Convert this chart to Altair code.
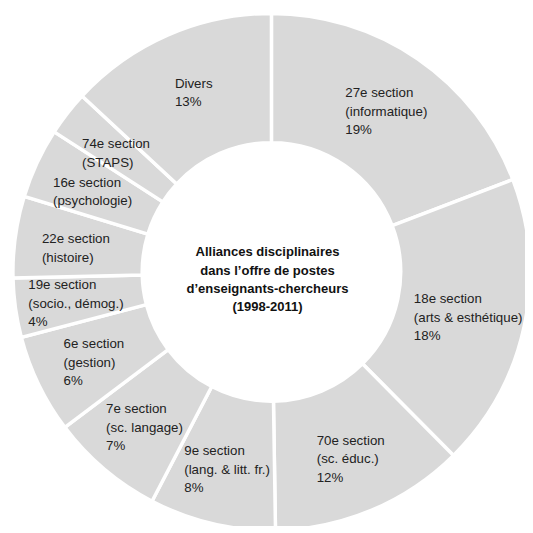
import altair as alt
import pandas as pd

# ---- data (clockwise from 12 o'clock) ----
sections = ["27e section", "18e section", "70e section", "9e section", "7e section",
            "6e section", "19e section", "22e section", "16e section", "74e section", "Divers"]
fields = ["(informatique)", "(arts & esthétique)", "(sc. éduc.)", "(lang. & litt. fr.)",
          "(sc. langage)", "(gestion)", "(socio., démog.)", "(histoire)", "(psychologie)",
          "(STAPS)", ""]
pct_labels = ["19%", "18%", "12%", "8%", "7%", "6%", "4%", "", "", "", "13%"]
shares = [19.2, 18.4, 12.2, 7.9, 7.1, 6.2, 3.7, 5.1, 4.4, 2.8, 13.1]
title_lines = ["Alliances disciplinaires", "dans l\u2019offre de postes",
               "d\u2019enseignants-chercheurs", "(1998-2011)"]

labels = ["\n".join([s for s in (a, b, c) if s]) for a, b, c in zip(sections, fields, pct_labels)]
df = pd.DataFrame({"idx": list(range(len(sections))), "share": shares, "label": labels})
title_df = pd.DataFrame({"t": ["\n".join(title_lines)]})

FS = 13.5
LH = 18.7
CX, CY = 267, 264          # donut centre
TX, TY = 269, 268          # label ring centre
TITLE_X, TITLE_Y = 263, 264

NARROW = {"i": 222, "l": 222, "j": 222, "f": 278, "t": 278, " ": 278, ".": 278, ",": 278,
          "r": 333, "(": 333, ")": 333}
OTHER = {"m": 833, "w": 722, "%": 889, "&": 667, "S": 667, "T": 611, "A": 667, "P": 667,
         "D": 722, "c": 500, "k": 500, "s": 500, "v": 500, "x": 500, "y": 500, "z": 500}


def text_width(s):
    return sum(NARROW.get(ch, OTHER.get(ch, 556)) for ch in s) * FS / 1000.0


theta = alt.Theta("share:Q", stack=True)
order = alt.Order("idx:Q")

arcs = alt.Chart(df).mark_arc(
    innerRadius=131, outerRadius=262, stroke="white", strokeWidth=3.5, fill="#d9d9d9"
).encode(theta=theta, order=order, detail="idx:N", x=alt.value(CX), y=alt.value(CY))

layers = [arcs]
for i, lab in enumerate(labels):
    lines = lab.split("\n")
    w = max(text_width(line) for line in lines)
    layers.append(
        alt.Chart(df)
        .transform_calculate(t=f"datum.idx == {i} ? datum.label : ''")
        .mark_text(radius=202, align="left", baseline="middle", dx=-w / 2,
                   dy=-(len(lines) - 1) * LH / 2,
                   lineBreak="\n", fontSize=FS, lineHeight=LH,
                   font="Liberation Sans", color="#222222")
        .encode(theta=theta, order=order, detail="idx:N", text="t:N",
                x=alt.value(TX), y=alt.value(TY))
    )

center = alt.Chart(title_df).mark_text(
    align="center", baseline="middle", lineBreak="\n", fontSize=13.2, lineHeight=18.7,
    fontWeight="bold", font="Liberation Sans", color="#111111",
    dy=8 - 1.5 * 18.7
).encode(text="t:N", x=alt.value(TITLE_X), y=alt.value(TITLE_Y))
layers.append(center)

chart = alt.layer(*layers).properties(
    width=524, height=518, padding=0, autosize=alt.AutoSizeParams(type="none")
).configure_view(stroke=None)

chart.save("out.html", embed_options={"renderer": "svg", "actions": False})
